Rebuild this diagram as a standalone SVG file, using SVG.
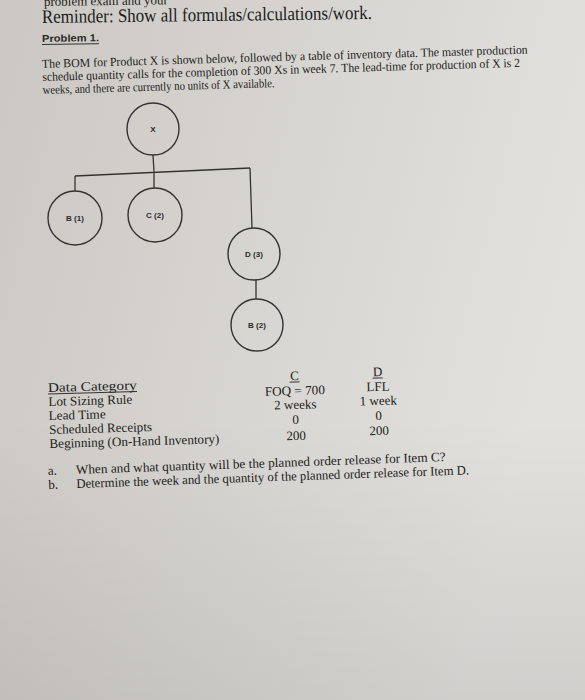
<svg xmlns="http://www.w3.org/2000/svg" width="585" height="700" viewBox="0 0 585 700">
<defs>
<linearGradient id="paper" x1="0" y1="0" x2="1" y2="0.3">
<stop offset="0" stop-color="#cbc8c3"/>
<stop offset="0.55" stop-color="#d8d6d2"/>
<stop offset="1" stop-color="#e3e1de"/>
</linearGradient>
<linearGradient id="shade" x1="0" y1="0" x2="0" y2="1">
<stop offset="0" stop-color="#000" stop-opacity="0"/>
<stop offset="0.6" stop-color="#000" stop-opacity="0"/>
<stop offset="1" stop-color="#000" stop-opacity="0.08"/>
</linearGradient>
</defs>
<style>
.s{font-family:"Liberation Serif","Times New Roman",serif;fill:#1c1c1c}
.b{font-family:"Liberation Sans",Arial,sans-serif;font-weight:bold;fill:#2a2a2a}
.n{fill:none;stroke:#333;stroke-width:1.4}
.l{stroke:#333;stroke-width:1.3;fill:none}
.u{stroke:#222;stroke-width:0.9}
</style>
<rect width="585" height="700" fill="url(#paper)"/>
<rect width="585" height="700" fill="url(#shade)"/>
<text class="s" x="44" y="6" font-size="13" transform="rotate(-0.8 44 6)">problem exam and your</text>
<text class="s" x="42" y="23" font-size="19" textLength="330" lengthAdjust="spacingAndGlyphs" transform="rotate(-0.7 42 23)">Reminder: Show all formulas/calculations/work.</text>
<g transform="rotate(-0.8 42 42)">
<text class="b" x="42" y="42" font-size="10" textLength="57" lengthAdjust="spacingAndGlyphs">Problem 1.</text>
<line class="u" x1="42" y1="44.5" x2="99" y2="44.5"/>
</g>
<g transform="rotate(-1.7 42 68)">
<text class="s" x="42" y="68" font-size="12.3" textLength="486" lengthAdjust="spacingAndGlyphs">The BOM for Product X is shown below, followed by a table of inventory data. The master production</text>
<text class="s" x="42" y="81" font-size="12.3" textLength="478" lengthAdjust="spacingAndGlyphs">schedule quantity calls for the completion of 300 Xs in week 7. The lead-time for production of X is 2</text>
<text class="s" x="42" y="94" font-size="12.3" textLength="232" lengthAdjust="spacingAndGlyphs">weeks, and there are currently no units of X available.</text>
</g>
<g id="connectors">
<line class="l" x1="153" y1="155" x2="154" y2="172"/>
<line class="l" x1="75" y1="176" x2="250" y2="168"/>
<line class="l" x1="75" y1="176" x2="75" y2="191"/>
<line class="l" x1="154" y1="172" x2="154" y2="188"/>
<line class="l" x1="250" y1="168" x2="252" y2="228"/>
<line class="l" x1="256" y1="280" x2="256" y2="299"/>
</g>
<g id="node-X"><circle class="n" cx="153" cy="129" r="26"/><text class="b" x="153" y="132" font-size="8" text-anchor="middle">X</text></g>
<g id="node-B1"><circle class="n" cx="75" cy="218" r="27"/><text class="b" x="75" y="221" font-size="8" text-anchor="middle">B (1)</text></g>
<g id="node-C2"><circle class="n" cx="155" cy="215" r="27"/><text class="b" x="155" y="218" font-size="8" text-anchor="middle">C (2)</text></g>
<g id="node-D3"><circle class="n" cx="254" cy="254" r="26"/><text class="b" x="254" y="257" font-size="8" text-anchor="middle">D (3)</text></g>
<g id="node-B2"><circle class="n" cx="257" cy="325" r="26"/><text class="b" x="257" y="328" font-size="8" text-anchor="middle">B (2)</text></g>
<g id="table">
<g transform="rotate(-1.6 48 392)">
<text class="s" x="48" y="392" font-size="13" textLength="89" lengthAdjust="spacingAndGlyphs">Data Category</text>
<line class="u" x1="48" y1="394" x2="137" y2="394"/>
<text class="s" x="48" y="406" font-size="13" textLength="84" lengthAdjust="spacingAndGlyphs">Lot Sizing Rule</text>
<text class="s" x="48" y="420" font-size="13" textLength="57" lengthAdjust="spacingAndGlyphs">Lead Time</text>
<text class="s" x="48" y="434" font-size="13" textLength="103" lengthAdjust="spacingAndGlyphs">Scheduled Receipts</text>
<text class="s" x="48" y="448" font-size="13" textLength="170" lengthAdjust="spacingAndGlyphs">Beginning (On-Hand Inventory)</text>
</g>
<g transform="rotate(-1.6 295 395)" text-anchor="middle">
<text class="s" x="295" y="380" font-size="13">C</text>
<line class="u" x1="290" y1="382" x2="300" y2="382"/>
<text class="s" x="295" y="395" font-size="13" textLength="60" lengthAdjust="spacingAndGlyphs">FOQ = 700</text>
<text class="s" x="295" y="409" font-size="13">2 weeks</text>
<text class="s" x="295" y="424" font-size="13">0</text>
<text class="s" x="295" y="440" font-size="13">200</text>
</g>
<g transform="rotate(-1.6 378 390)" text-anchor="middle">
<text class="s" x="378" y="376" font-size="13">D</text>
<line class="u" x1="373" y1="378" x2="383" y2="378"/>
<text class="s" x="378" y="391" font-size="13">LFL</text>
<text class="s" x="378" y="405" font-size="13">1 week</text>
<text class="s" x="378" y="420" font-size="13">0</text>
<text class="s" x="378" y="435" font-size="13">200</text>
</g>
</g>
<g transform="rotate(-2 48 475)">
<text class="s" x="48" y="475" font-size="13">a.</text>
<text class="s" x="76" y="475" font-size="13" textLength="370" lengthAdjust="spacingAndGlyphs">When and what quantity will be the planned order release for Item C?</text>
<text class="s" x="48" y="489" font-size="13">b.</text>
<text class="s" x="76" y="489" font-size="13" textLength="393" lengthAdjust="spacingAndGlyphs">Determine the week and the quantity of the planned order release for Item D.</text>
</g>
</svg>
